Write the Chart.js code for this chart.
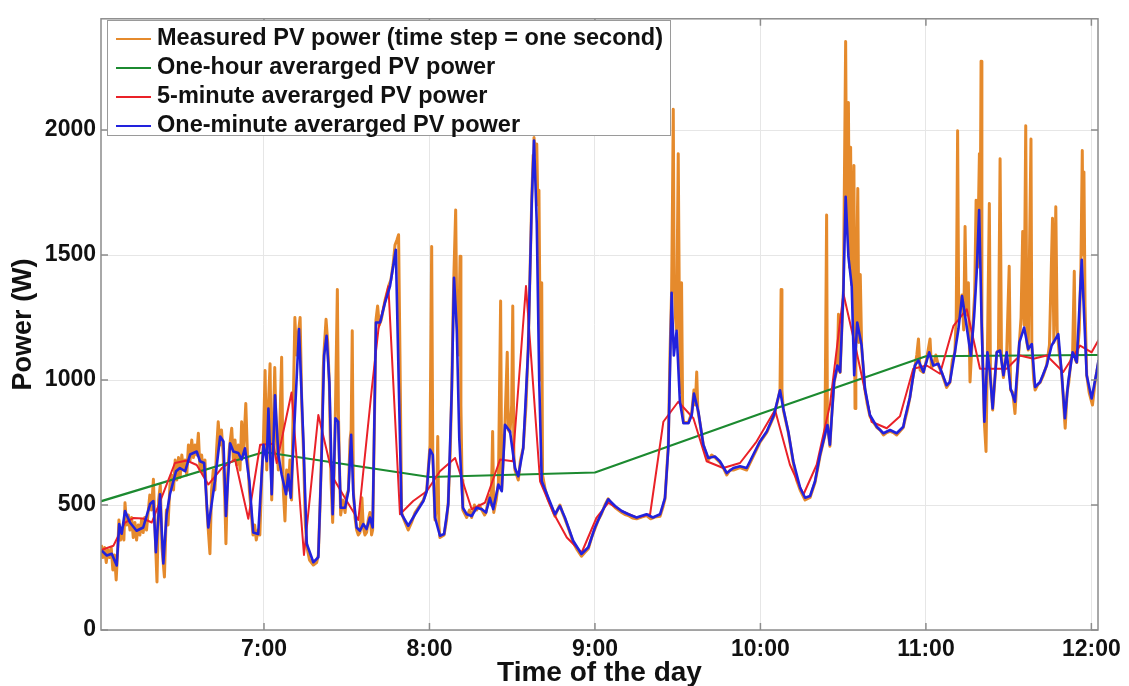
<!DOCTYPE html>
<html lang="en">
<head>
<meta charset="UTF-8">
<title>PV power</title>
<script src="https://cdn.jsdelivr.net/npm/chart.js@4.4.1/dist/chart.umd.min.js"></script>
<style>
    body { margin: 0; background: #fff; overflow: hidden; }
    .wrap { position: relative; width: 1129px; height: 686px; }
    .legend {
        position: absolute; left: 107px; top: 20px; width: 564px; height: 116px;
        border: 1px solid #9a9a9a; background: #fff;
        font-family: "Liberation Sans", Arial, sans-serif; font-weight: bold; font-size: 23.5px;
        color: #111; box-sizing: border-box; padding-top: 2px;
    }
    .legend div { height: 29px; line-height: 29px; white-space: nowrap; }
    .legend .sw { display: inline-block; width: 35px; height: 2px; margin: 0 6px 0 8px; vertical-align: middle; }
</style>
</head>
<body>
<div class="wrap">
    <canvas id="pv" width="1129" height="686"></canvas>
    <div class="legend" id="legend"></div>
</div>

<script>
    // time = minutes after 6:00, power in W
    const hourMarks = [60, 120, 180, 240, 300, 360];
    const hourLabels = ['7:00', '8:00', '9:00', '10:00', '11:00', '12:00'];
    const powerMarks = [0, 500, 1000, 1500, 2000];

    const seriesNames = [
        'Measured PV power (time step = one second)',
        'One-hour averarged PV power',
        '5-minute averarged PV power',
        'One-minute averarged PV power'
    ];
    const seriesColors = ['#e58a2c', '#1c8a30', '#ea2128', '#2222dd'];

    const hourAvg = [[0, 512], [60, 712], [120, 612], [180, 630], [240, 865], [300, 1095], [360, 1100], [363, 1100]];

    const fiveMinAvg = [[1, 320], [5.4, 337], [9.6, 430], [12.6, 448], [16.2, 446], [19.3, 430], [23.5, 548], [27.7, 668],
        [32, 678], [35.6, 660], [39.8, 582], [44.7, 648], [49.5, 682], [54.3, 445], [58.6, 741], [63.4, 745],
        [64.6, 668], [70, 950], [74.5, 300], [79.7, 860], [85.1, 608], [90, 516], [94.2, 440], [99.1, 966],
        [101.5, 1204], [105.1, 1375], [109.3, 463], [114.1, 516], [119, 555], [123.8, 635], [129.3, 688],
        [135.3, 483], [140.1, 509], [145.6, 682], [150.2, 675], [155, 1376], [160.1, 595], [164.9, 469],
        [169.8, 370], [175.2, 310], [180.6, 450], [184.8, 509], [189.7, 476], [195.1, 450], [200, 463],
        [204.8, 833], [210.2, 913], [215.7, 847], [220.5, 675], [226.5, 648], [232.6, 668], [238.6, 754],
        [245.3, 880], [250.7, 661], [255.6, 542], [260.4, 661], [265.2, 900], [270.1, 1345], [274.9, 1111],
        [280.3, 833], [285.8, 807], [290.6, 855], [295.4, 1045], [300.3, 1058], [305.1, 1025], [310, 1217],
        [314.8, 1283], [319.6, 1045], [324.5, 1045], [329.3, 1045], [334.1, 1098], [339, 1085], [343.8, 1098],
        [349.8, 1032], [355.9, 1138], [360.1, 1111], [362.6, 1160]];

    const oneMinAvg = [[1.2, 317], [3, 298], [4.8, 305], [6.6, 258], [7.5, 424], [8.4, 385], [9.6, 476], [11.4, 430],
        [13.8, 397], [16.2, 410], [18.7, 504], [19.9, 516], [20.8, 311], [22.3, 543], [23.5, 266], [24.7, 464],
        [25.9, 543], [28.1, 635], [29.5, 648], [31.4, 635], [33.2, 702], [35.6, 714], [36.8, 675], [38.3, 668],
        [39.8, 410], [42.2, 595], [44.1, 774], [45.3, 754], [46.2, 456], [47.7, 747], [48.9, 714], [50.7, 708],
        [51.9, 682], [53.1, 727], [54.7, 595], [56.1, 390], [57.9, 384], [59.8, 741], [61, 675], [61.6, 886],
        [62.8, 543], [64, 939], [65.2, 701], [66.4, 622], [68, 543], [68.8, 622], [69.7, 529], [71.2, 860],
        [72.7, 1204], [74.3, 754], [75.5, 345], [77.9, 271], [79.7, 291], [80.9, 702], [81.8, 1098], [82.7, 1177],
        [83.7, 992], [84.9, 463], [85.9, 847], [86.9, 833], [87.8, 489], [89.4, 489], [90.6, 555], [91.6, 781],
        [92.4, 543], [93.6, 410], [94.8, 397], [96, 424], [97.2, 404], [98.4, 450], [99.4, 410], [100.6, 1230],
        [102.1, 1230], [103.9, 1310], [105.7, 1376], [107.8, 1521], [109.9, 463], [112.3, 417], [114.8, 463],
        [117.8, 516], [119, 555], [120.2, 722], [121.2, 701], [122, 450], [123.8, 377], [125.3, 384], [126.8, 503],
        [128.1, 966], [128.9, 1409], [129.9, 1204], [130.8, 767], [132.1, 489], [133.5, 463], [135.3, 456],
        [137.1, 489], [139, 483], [140.5, 470], [141.9, 529], [143.1, 483], [145, 582], [146.2, 555], [147.4, 821],
        [149.2, 794], [151, 648], [152.2, 615], [154, 727], [155.8, 1124], [157.1, 1719], [157.9, 1958],
        [158.9, 1627], [159.8, 992], [160.7, 595], [163.1, 529], [165.5, 463], [167.3, 496], [169.1, 450],
        [172.1, 357], [175.1, 304], [177.6, 331], [180, 410], [182.4, 469], [184.8, 523], [187.3, 496],
        [189.7, 476], [192.1, 463], [195.1, 450], [198.7, 463], [201, 450], [203.6, 463], [205.4, 529],
        [206.6, 727], [207.8, 1349], [208.6, 1098], [209.6, 1197], [210.8, 913], [212.1, 827], [213.9, 827],
        [215.1, 860], [215.9, 946], [217.5, 873], [219.3, 741], [221.1, 688], [223.5, 694], [225.3, 675],
        [227.8, 628], [230.2, 648], [232.6, 655], [235, 648], [237.4, 701], [239.8, 754], [242.3, 794],
        [244.9, 860], [247.1, 959], [248.3, 886], [250.1, 794], [251.9, 675], [254.4, 569], [256.2, 529],
        [258, 536], [259.8, 595], [261.6, 701], [263.4, 781], [264.3, 820], [265.2, 741], [266.7, 992],
        [267.9, 1058], [268.9, 1032], [270.1, 1362], [270.9, 1733], [271.9, 1494], [273.1, 1376], [274, 1019],
        [275.1, 1230], [276.7, 1138], [277.9, 966], [279.7, 860], [282.2, 813], [284.6, 787], [287, 800],
        [289.4, 787], [291.8, 813], [292.4, 847], [294.2, 930], [296, 1058], [297.3, 1078], [299.1, 1032],
        [301.2, 1111], [302.7, 1058], [304.5, 1065], [305.7, 1032], [307.5, 979], [308.7, 992], [310.5, 1111],
        [311.8, 1204], [313.1, 1336], [314.2, 1257], [316.3, 1098], [317.5, 1257], [318.4, 1428], [319.3, 1680],
        [320.2, 1230], [321.2, 833], [322.3, 1111], [323.2, 1032], [324.2, 886], [325.7, 1111], [326.9, 1118],
        [328.1, 1019], [329.3, 1111], [330.7, 966], [332.3, 913], [333.9, 1151], [335.6, 1210], [337.1, 1124],
        [338.4, 1144], [339.6, 972], [341.4, 992], [343.8, 1058], [345.6, 1138], [348, 1184], [349.2, 1032],
        [350.4, 847], [351.6, 992], [353.2, 1111], [354.7, 1071], [356.5, 1481], [358.3, 1019], [360.1, 926],
        [361.9, 1032], [362.6, 1080]];

    const measured = [[1, 340], [1.6, 290], [2.2, 330], [2.8, 270], [3.4, 320], [4, 290], [4.6, 330], [5.2, 240],
        [5.8, 300], [6.4, 200], [7, 330], [7.4, 440], [8, 360], [8.6, 400], [9.2, 360], [9.6, 509], [10.2, 420],
        [10.8, 460], [11.4, 400], [12, 450], [12.6, 370], [13.2, 430], [13.8, 360], [14.4, 420], [15, 380],
        [15.6, 440], [16.2, 390], [16.8, 450], [17.4, 400], [18, 470], [18.6, 540], [19.2, 480], [19.9, 603],
        [20.5, 400], [21.2, 192], [21.8, 520], [22.4, 580], [23, 330], [23.9, 212], [24.6, 480], [25.2, 420],
        [25.9, 580], [26.5, 620], [27.2, 560], [27.8, 680], [28.4, 600], [29, 690], [29.6, 610], [30.2, 700],
        [30.8, 640], [31.4, 680], [32, 620], [32.6, 740], [33.2, 680], [33.8, 760], [34.4, 690], [35, 740],
        [35.6, 700], [36.2, 787], [36.8, 640], [37.4, 700], [38, 620], [38.6, 680], [39.2, 500], [39.8, 400],
        [40.4, 305], [41, 560], [41.6, 640], [42.2, 560], [42.8, 720], [43.4, 833], [44, 740], [44.6, 800],
        [45.2, 700], [45.8, 520], [46.2, 345], [46.8, 620], [47.4, 720], [48.3, 807], [48.9, 680], [49.5, 760],
        [50.1, 660], [50.7, 740], [51.3, 640], [51.9, 833], [52.5, 700], [53.4, 906], [54, 700], [54.7, 560],
        [55.3, 480], [56, 380], [56.6, 420], [57.2, 360], [57.9, 400], [58.5, 380], [59.2, 620], [59.8, 760],
        [60.4, 1038], [61, 640], [61.6, 900], [62.2, 1065], [62.8, 520], [63.4, 820], [63.9, 1050], [64.5, 760],
        [65.2, 640], [65.8, 840], [66.4, 1091], [67, 560], [67.6, 436], [68.2, 640], [68.8, 560], [69.4, 680],
        [70, 520], [70.6, 900], [71.2, 1250], [71.8, 1100], [72.4, 1180], [73.1, 1250], [73.7, 900], [74.3, 720],
        [75, 420], [75.6, 330], [76.5, 280], [77.9, 260], [79.1, 270], [79.7, 300], [80.4, 520], [80.9, 720],
        [81.5, 1050], [81.8, 1120], [82.5, 1243], [83.1, 1150], [83.7, 980], [84.3, 600], [84.9, 430], [85.4, 620],
        [85.9, 880], [86.6, 1362], [87, 860], [87.4, 640], [87.8, 460], [88.6, 520], [89.4, 470], [90, 540],
        [90.6, 560], [91.2, 760], [91.6, 800], [92, 1197], [92.4, 560], [93, 450], [93.6, 400], [94.2, 380],
        [94.8, 390], [95.5, 529], [96, 410], [96.6, 380], [97.2, 390], [97.8, 440], [98.4, 470], [99, 380],
        [99.4, 400], [100, 800], [100.6, 1240], [101.2, 1296], [101.8, 1220], [102.5, 1240], [103.2, 1280],
        [103.9, 1320], [104.6, 1350], [105.3, 1380], [106, 1400], [106.8, 1460], [107.5, 1540], [108.2, 1560],
        [108.8, 1581], [109.3, 1100], [109.9, 470], [110.8, 440], [112.3, 400], [113.5, 430], [114.8, 470],
        [116, 490], [117.8, 520], [119, 560], [120.2, 740], [120.8, 1534], [121.2, 700], [122, 440], [122.6, 500],
        [123, 774], [123.4, 420], [123.8, 370], [125.3, 380], [126.2, 440], [126.8, 510], [127.5, 700],
        [128.1, 980], [128.6, 1300], [128.9, 1440], [129.5, 1680], [129.9, 1250], [130.5, 1100], [131.1, 1495],
        [131.4, 900], [131.8, 600], [132.1, 480], [133.5, 450], [134.5, 480], [135.3, 450], [136.3, 500],
        [137.1, 480], [138, 500], [139, 480], [140, 460], [140.5, 470], [141.3, 520], [141.9, 540], [142.4, 500],
        [142.9, 794], [143.3, 470], [144.2, 520], [145, 590], [145.8, 1316], [146.2, 560], [146.8, 700],
        [147.4, 830], [148.2, 1111], [148.6, 800], [149.2, 790], [149.8, 900], [150.2, 1296], [150.6, 700],
        [151, 640], [152.2, 600], [153, 680], [154, 730], [155, 900], [155.8, 1130], [156.5, 1450], [157.1, 1730],
        [157.6, 1900], [157.9, 1970], [158.5, 1900], [158.9, 1944], [159.3, 1700], [159.7, 1759], [160.1, 1200],
        [160.4, 1000], [160.7, 1389], [161, 620], [162, 560], [163.1, 520], [164.3, 490], [165.5, 455],
        [166.4, 480], [167.3, 500], [168.2, 470], [169.1, 445], [170.6, 400], [172.1, 350], [173.6, 320],
        [175.1, 295], [176.3, 310], [177.6, 325], [178.8, 370], [180, 405], [181.2, 440], [182.4, 465],
        [183.6, 500], [184.8, 525], [186, 505], [187.3, 490], [188.5, 480], [189.7, 470], [190.9, 462],
        [192.1, 458], [193.6, 448], [195.1, 445], [196.9, 452], [198.7, 458], [200.2, 445], [201.7, 452],
        [203.6, 455], [204.6, 490], [205.4, 525], [206.1, 650], [206.6, 740], [207.2, 1100], [207.8, 1360],
        [208.1, 1700], [208.4, 2083], [208.7, 1400], [209.2, 1250], [209.6, 1200], [210.2, 1905], [210.6, 1300],
        [211, 950], [211.4, 1389], [211.8, 880], [212.1, 830], [213, 830], [213.9, 830], [215.1, 870],
        [215.9, 960], [216.4, 900], [216.9, 1032], [217.3, 880], [218.2, 820], [219.3, 740], [221.1, 680],
        [222.3, 700], [223.5, 690], [225.3, 670], [226.5, 650], [227.8, 620], [229, 640], [230.2, 640],
        [232.6, 650], [235, 640], [237.4, 695], [239.8, 750], [242.3, 790], [244.9, 855], [246.5, 930],
        [247.1, 960], [247.5, 1362], [247.8, 960], [248.3, 880], [250.1, 790], [251.9, 670], [253.1, 600],
        [254.4, 560], [256.2, 520], [258, 530], [259.8, 590], [261.6, 695], [263.4, 780], [264, 1660],
        [264.3, 820], [265.2, 735], [265.8, 850], [266.7, 990], [267.9, 1050], [268.3, 1263], [268.6, 1040],
        [268.9, 1030], [269.5, 1200], [270.1, 1360], [270.9, 2354], [271.3, 1600], [271.9, 2110], [272.3, 1450],
        [272.7, 1931], [273.1, 1380], [273.9, 1858], [274.3, 886], [274.6, 1230], [275.3, 1766], [275.7, 1150],
        [276.2, 1422], [276.7, 1130], [277.9, 960], [278.8, 900], [279.7, 855], [281, 830], [282.2, 810],
        [283.4, 800], [284.6, 780], [285.8, 790], [287, 795], [288.2, 790], [289.4, 780], [290.6, 795],
        [291.8, 810], [292.4, 840], [293.3, 880], [294.2, 930], [295.1, 1000], [296, 1050], [296.7, 1100],
        [297.3, 1164], [297.9, 1040], [299.1, 1030], [300.2, 1080], [301.5, 1164], [302, 1050], [302.7, 1060],
        [303.6, 1100], [304.5, 1060], [305.7, 1030], [306.6, 1000], [307.5, 970], [308.7, 990], [309.6, 1080],
        [310.5, 1110], [311, 1250], [311.5, 1997], [311.9, 1250], [312.4, 1300], [313.1, 1340], [313.7, 1200],
        [314.2, 1614], [314.7, 1260], [315.4, 1389], [316, 992], [316.5, 1100], [317.2, 1250], [317.7, 1350],
        [318.2, 1719], [318.7, 1450], [319.4, 1905], [319.7, 1650], [320, 2275], [320.3, 1230], [320.8, 1000],
        [321.2, 830], [321.8, 714], [322.3, 1110], [323, 1706], [323.4, 1020], [324.2, 880], [325, 1000],
        [325.7, 1110], [326.3, 1120], [326.9, 1885], [327.4, 1100], [328.1, 1010], [329.3, 1110], [330.2, 1455],
        [330.7, 960], [331.5, 950], [332.3, 866], [333, 1000], [333.9, 1150], [334.5, 1250], [335.1, 1594],
        [335.6, 1220], [336.2, 2017], [336.6, 1150], [337.1, 1120], [338.1, 1964], [338.4, 1140], [339.1, 1000],
        [339.6, 960], [340.5, 980], [341.4, 990], [342.6, 1020], [343.8, 1060], [344.8, 1140], [345.9, 1647],
        [346.4, 1150], [347.1, 1693], [347.6, 1200], [348.4, 1100], [349.2, 1030], [350.5, 807], [351.2, 950],
        [351.8, 990], [352.6, 1080], [353.2, 1110], [353.8, 1435], [354.2, 1080], [354.7, 1070], [355.6, 1200],
        [356.2, 1450], [356.7, 1918], [357, 1500], [357.3, 1832], [357.7, 1300], [358.3, 1020], [359.2, 950],
        [360.4, 900], [361.2, 980], [361.9, 1030], [362.6, 1070]];

    // legend drawn as html box inside the axes (matlab style)
    const legendBox = document.getElementById('legend');
    seriesNames.forEach(function (name, i) {
        const row = document.createElement('div');
        row.innerHTML = '<span class="sw" style="background:' + seriesColors[i] + '"></span>' + name;
        legendBox.appendChild(row);
    });

    // box around the axes + small inward ticks
    const axesBox = {
        id: 'axesBox',
        afterDraw(chart) {
            const { ctx, chartArea: a, scales } = chart;
            ctx.save();
            ctx.strokeStyle = '#8c8c8c';
            ctx.lineWidth = 1.5;
            ctx.strokeRect(a.left, a.top, a.right - a.left, a.bottom - a.top);
            ctx.beginPath();
            hourMarks.forEach(function (v) {
                const x = scales.x.getPixelForValue(v);
                ctx.moveTo(x, a.bottom); ctx.lineTo(x, a.bottom - 7);
                ctx.moveTo(x, a.top); ctx.lineTo(x, a.top + 7);
            });
            powerMarks.forEach(function (v) {
                const y = scales.y.getPixelForValue(v);
                ctx.moveTo(a.left, y); ctx.lineTo(a.left + 7, y);
                ctx.moveTo(a.right, y); ctx.lineTo(a.right - 7, y);
            });
            ctx.stroke();
            ctx.restore();
        }
    };

    const sets = [measured, hourAvg, fiveMinAvg, oneMinAvg];
    const widths = [3, 2.2, 2, 2.6];
    const drawOrder = [4, 3, 2, 1];

    const font = 'Liberation Sans';
    const ctx = document.getElementById('pv').getContext('2d');
    const pvChart = new Chart(ctx, {
        type: 'line',
        data: {
            datasets: sets.map(function (d, i) {
                return {
                    label: seriesNames[i],
                    data: d,
                    borderColor: seriesColors[i],
                    borderWidth: widths[i],
                    borderJoinStyle: 'round',
                    pointRadius: 0,
                    tension: 0,
                    fill: false,
                    order: drawOrder[i]
                };
            })
        },
        options: {
            responsive: false,
            animation: false,
            devicePixelRatio: 1,
            layout: { padding: { top: 14, right: 31, left: 0, bottom: 0 } },
            plugins: {
                legend: { display: false },
                tooltip: { enabled: false }
            },
            scales: {
                x: {
                    type: 'linear',
                    min: 0.9,
                    max: 362.4,
                    afterBuildTicks: function (s) { s.ticks = hourMarks.map(function (v) { return { value: v }; }); },
                    afterFit: function (s) { s.height = 56; },
                    grid: { color: '#e6e6e6', drawTicks: false },
                    border: { display: false },
                    ticks: {
                        padding: 6,
                        color: '#111',
                        font: { family: font, size: 23, weight: 'bold' },
                        callback: function (v) { return hourLabels[hourMarks.indexOf(v)]; }
                    },
                    title: {
                        display: true,
                        text: 'Time of the day',
                        color: '#111',
                        padding: 0,
                        font: { family: font, size: 28, weight: 'bold', lineHeight: 0.93 }
                    }
                },
                y: {
                    min: 0,
                    max: 2445,
                    afterBuildTicks: function (s) { s.ticks = powerMarks.map(function (v) { return { value: v }; }); },
                    afterFit: function (s) { s.width = 101; },
                    grid: { color: '#e6e6e6', drawTicks: false },
                    border: { display: false },
                    ticks: {
                        padding: 5,
                        color: '#111',
                        font: { family: font, size: 23, weight: 'bold' },
                        callback: function (v) { return String(v); }
                    },
                    title: {
                        display: true,
                        text: 'Power (W)',
                        color: '#111',
                        padding: { top: 7 },
                        font: { family: font, size: 27, weight: 'bold', lineHeight: 1.2 }
                    }
                }
            }
        },
        plugins: [axesBox]
    });
</script>
</body>
</html>
